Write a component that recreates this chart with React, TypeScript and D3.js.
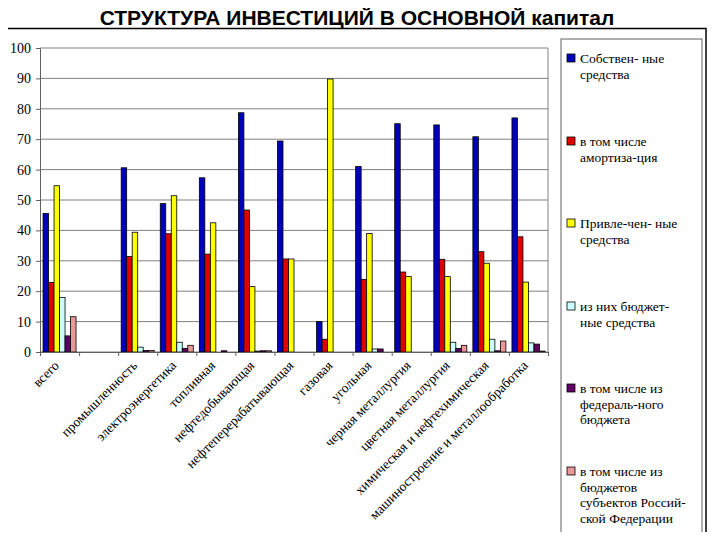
import { useEffect, useRef } from "react";
import * as d3 from "d3";

const WIDTH = 720;
const HEIGHT = 540;
// plot area (bounds inside the axes)
const PLOT = { left: 40, top: 48, right: 548, bottom: 352 };
const SERIF = "Times New Roman, Liberation Serif, DejaVu Serif, Noto Serif, serif";

const categories = [
  "всего",
  "",
  "промышленность",
  "электроэнергетика",
  "топливная",
  "нефтедобывающая",
  "нефтеперерабатывающая",
  "газовая",
  "угольная",
  "черная металлургия",
  "цветная металлургия",
  "химическая и нефтехимическая",
  "машиностроение и металлообработка",
];

const own = [45.6, 0, 60.6, 48.8, 57.3, 78.7, 69.4, 10, 61, 75.1, 74.7, 70.8, 77];
const amort = [22.9, 0, 31.4, 38.9, 32.2, 46.7, 30.6, 4.2, 23.9, 26.3, 30.5, 33, 37.9];
const borrowed = [54.7, 0, 39.4, 51.4, 42.5, 21.5, 30.6, 89.8, 39, 24.8, 24.8, 29.2, 23];
const budget = [17.9, 0, 1.6, 3.2, 0, 0.3, 0, 0, 1, 0, 3.2, 4.2, 3];
const federal = [5.3, 0, 0.5, 1.2, 0.4, 0.4, 0, 0, 1, 0, 1.2, 0.4, 2.6];
const regional = [11.6, 0, 0.5, 2.2, 0, 0.4, 0, 0, 0, 0, 2.2, 3.6, 0.3];

const series = [
  { lines: ["Собствен- ные", "средства"], values: own, color: "#0000b8" },
  { lines: ["в том числе", "амортиза-ция"], values: amort, color: "#e00000" },
  { lines: ["Привле-чен- ные", "средства"], values: borrowed, color: "#ffff00" },
  { lines: ["из них бюджет-", "ные средства"], values: budget, color: "#ccffff" },
  { lines: ["в том числе из", "федераль-ного", "бюджета"], values: federal, color: "#600060" },
  {
    lines: ["в том числе из", "бюджетов", "субъектов Россий-", "ской Федерации"],
    values: regional,
    color: "#e89898",
  },
];

const legendY = [58, 141, 223, 306, 388, 471];
const yTicks = d3.range(0, 101, 10);

const TITLE = "СТРУКТУРА ИНВЕСТИЦИЙ В ОСНОВНОЙ капитал";

export default function App() {
  const axesRef = useRef<SVGGElement>(null);

  const xScale = d3
    .scaleBand<number>()
    .domain(d3.range(categories.length))
    .range([PLOT.left, PLOT.right]);
  const inner = d3
    .scaleBand<number>()
    .domain(d3.range(series.length))
    .range([0, xScale.bandwidth()])
    .paddingOuter(0.55);
  const yScale = d3.scaleLinear().domain([0, 100]).range([PLOT.bottom, PLOT.top]);

  useEffect(() => {
    const g = d3.select(axesRef.current);
    g.selectAll("*").remove();

    // y axis
    const yAxis = g
      .append("g")
      .attr("transform", `translate(${PLOT.left},0)`)
      .call(d3.axisLeft(yScale).tickValues(yTicks).tickSize(4).tickPadding(5));
    yAxis.attr("font-family", null).attr("font-size", null);
    yAxis.select(".domain").attr("stroke", "#606060");
    yAxis.selectAll(".tick line").attr("stroke", "#606060");
    yAxis
      .selectAll(".tick text")
      .style("font-family", SERIF)
      .style("font-size", "14px")
      .attr("fill", "#000");

    // x axis: ticks on group boundaries
    const boundaries = d3.range(categories.length + 1).map((i) => PLOT.left + i * xScale.step());
    const xAxis = g
      .append("g")
      .attr("transform", `translate(0,${PLOT.bottom})`)
      .call(
        d3
          .axisBottom(d3.scaleLinear().domain([PLOT.left, PLOT.right]).range([PLOT.left, PLOT.right]))
          .tickValues(boundaries)
          .tickSize(4)
          .tickFormat(() => "")
      );
    xAxis.select(".domain").attr("stroke", "#606060");
    xAxis.selectAll(".tick line").attr("stroke", "#606060");

    g.append("g")
      .selectAll("text")
      .data(categories)
      .join("text")
      .attr("transform", (_, i) => {
        const x = (xScale(i) ?? 0) + xScale.bandwidth() / 2 - 3;
        return `translate(${x},${PLOT.bottom + 11}) rotate(-45)`;
      })
      .attr("text-anchor", "end")
      .attr("dy", "0.35em")
      .style("font-family", SERIF)
      .style("font-size", "13.5px")
      .text((d) => d);
  }, []);

  return (
    <svg width={WIDTH} height={HEIGHT} style={{ display: "block", margin: -8 }}>
      <rect width={WIDTH} height={HEIGHT} fill="#fff" />
      <text
        x={357}
        y={25}
        textAnchor="middle"
        style={{ fontFamily: "Arial, Liberation Sans, sans-serif", fontWeight: "bold", fontSize: 21 }}
      >
        {TITLE}
      </text>
      {/* outer frame */}
      <rect x={5} y={28.5} width={701} height={505.5} fill="none" stroke="#000" strokeWidth={1.5} />

      {/* grid */}
      <g>
        {yTicks.map((t) => (
          <line
            key={t}
            x1={PLOT.left}
            x2={PLOT.right}
            y1={yScale(t)}
            y2={yScale(t)}
            stroke="#808080"
            strokeWidth={1}
          />
        ))}
        <line x1={PLOT.right} x2={PLOT.right} y1={PLOT.top} y2={PLOT.bottom} stroke="#808080" />
      </g>

      {/* bars */}
      <g>
        {series.map((s, si) => (
          <g key={si}>
            {s.values.map((v, ci) =>
              v > 0 ? (
                <rect
                  key={ci}
                  x={(xScale(ci) ?? 0) + (inner(si) ?? 0)}
                  y={yScale(v)}
                  width={inner.bandwidth()}
                  height={PLOT.bottom - yScale(v)}
                  fill={s.color}
                  stroke="#000"
                  strokeWidth={0.8}
                />
              ) : null
            )}
          </g>
        ))}
      </g>

      <g ref={axesRef} />

      {/* legend */}
      <rect x={561} y={39} width={141} height={494} fill="none" stroke="#606060" strokeWidth={1} />
      {series.map((s, si) => (
        <g key={si}>
          <rect
            x={567}
            y={legendY[si] - 4}
            width={8}
            height={8}
            fill={s.color}
            stroke="#000"
            strokeWidth={0.8}
          />
          <text
            x={580}
            y={legendY[si]}
            style={{ fontFamily: SERIF, fontSize: 13.5 }}
            dominantBaseline="central"
          >
            {s.lines.map((l, li) => (
              <tspan key={li} x={580} dy={li === 0 ? 0 : 15.5}>
                {l}
              </tspan>
            ))}
          </text>
        </g>
      ))}
    </svg>
  );
}
